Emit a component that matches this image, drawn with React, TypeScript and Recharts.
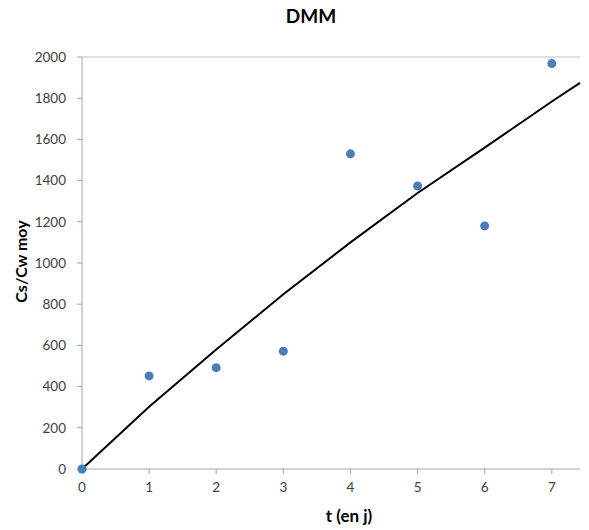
import React from 'react'
import { ComposedChart, Scatter, Line, XAxis, YAxis, ReferenceLine } from 'recharts'

// measured points
const days = [0, 1, 2, 3, 4, 5, 6, 7]
const ratio = [0, 452, 492, 572, 1530, 1374, 1180, 1968]

// fitted curve
const fitT = [0, 1, 2, 3, 4, 5, 6, 7, 7.42]
const fitVal = [0, 302, 580, 848, 1100, 1340, 1560, 1784, 1874]

const xTicks = [0, 1, 2, 3, 4, 5, 6, 7]
const yTicks = [0, 200, 400, 600, 800, 1000, 1200, 1400, 1600, 1800, 2000]

const points = days.map((t, i) => ({ t, v: ratio[i] }))
const fit = fitT.map((t, i) => ({ t, v: fitVal[i] }))

const font = 'Lato, "Open Sans", sans-serif'
const axisColor = '#a6a6a6'
const tickStyle = { fontSize: 13.5, fill: '#404040', fontFamily: font }

export default function App() {
  return (
    <div style={{ position: 'absolute', left: 0, top: 0, width: 589, height: 530, background: '#fff', fontFamily: font }}>
      <div style={{ position: 'absolute', top: 4, left: 211, width: 200, textAlign: 'center', fontSize: 19, fontWeight: 700, color: '#000' }}>
        DMM
      </div>
      <div style={{ position: 'absolute', top: 505, left: 249, width: 200, textAlign: 'center', fontSize: 17, fontWeight: 700, color: '#000' }}>
        t (en j)
      </div>
      <div style={{ position: 'absolute', top: 252, left: -40, width: 120, textAlign: 'center', fontSize: 16, fontWeight: 700, color: '#000', transform: 'rotate(-90deg)' }}>
        Cs/Cw moy
      </div>
      <ComposedChart width={589} height={530} margin={{ top: 57, right: 9, left: 0, bottom: 0 }}>
        <XAxis
          type="number"
          dataKey="t"
          domain={[0, 7.42]}
          ticks={xTicks}
          height={61}
          stroke={axisColor}
          tick={tickStyle}
          tickSize={5}
          tickMargin={8}
          axisLine={{ stroke: axisColor }}
          tickLine={{ stroke: axisColor }}
        />
        <YAxis
          type="number"
          dataKey="v"
          domain={[0, 2000]}
          ticks={yTicks}
          width={82}
          stroke={axisColor}
          tick={tickStyle}
          tickSize={5}
          tickMargin={11}
          axisLine={{ stroke: axisColor }}
          tickLine={{ stroke: axisColor }}
        />
        <ReferenceLine y={2000} stroke="#bfbfbf" />
        <Line
          data={fit}
          dataKey="v"
          type="linear"
          stroke="#000"
          strokeWidth={2}
          dot={false}
          activeDot={false}
          isAnimationActive={false}
        />
        <Scatter
          data={points}
          dataKey="v"
          fill="#4a7ebb"
          shape={(p: any) => <circle cx={p.cx} cy={p.cy} r={4.5} fill="#4a7ebb" />}
          isAnimationActive={false}
        />
      </ComposedChart>
    </div>
  )
}
